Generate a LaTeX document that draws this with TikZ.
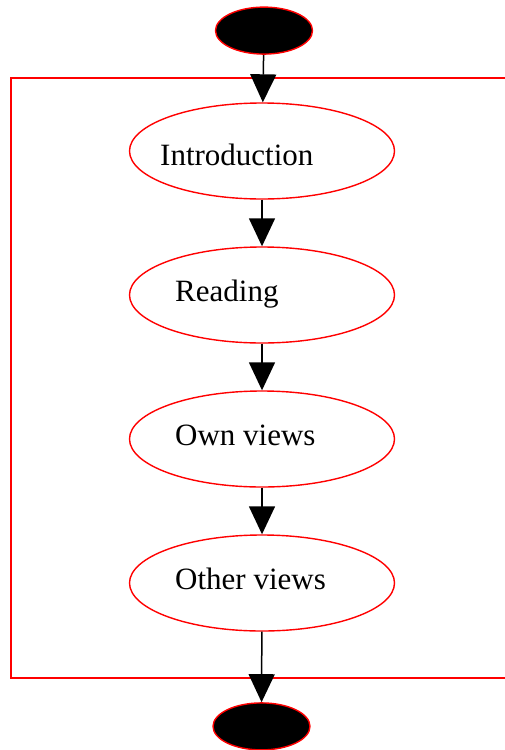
\documentclass[tikz,border=0pt]{standalone}
\usepackage{fontspec}
\setmainfont{Liberation Serif}
\usepackage{tikz}
\usetikzlibrary{shapes.geometric, arrows.meta, positioning}
\tikzstyle{terminal} = [ellipse, minimum width=97pt, minimum height=47pt, draw=red, fill=black, line width=1.4pt, inner sep=0pt]
\tikzstyle{topic} = [ellipse, minimum width=265pt, minimum height=96pt, draw=red, line width=1.4pt, inner sep=0pt]
\tikzstyle{caption} = [anchor=base west, inner sep=0pt, font=\fontsize{31}{37}\selectfont]
\tikzstyle{arrow} = [line width=1.5pt, -{Triangle[length=28pt, width=26pt]}]

\begin{document}
\begin{tikzpicture}[x=1pt, y=-1pt, node distance=46.6pt]
    \useasboundingbox (0,0) rectangle (505,750);
    \node (intro) [topic] at (262,151) {};
    \node (reading) [topic, below=of intro] {};
    \node (ownviews) [topic, below=of reading] {};
    \node (otherviews) [topic, below=of ownviews] {};
    \node (start) [terminal, above=47.5pt of intro, xshift=2pt] {};
    \node (stop) [terminal, below=70.5pt of otherviews, xshift=-0.5pt] {};

    \node (intro-t) [caption] at ([xshift=-102pt, yshift=-14pt]intro.center) {Introduction};
    \node (reading-t) [caption] at ([xshift=-87pt, yshift=-6.5pt]reading.center) {Reading};
    \node (ownviews-t) [caption] at ([xshift=-87pt, yshift=-6.5pt]ownviews.center) {Own views};
    \node (otherviews-t) [caption] at ([xshift=-87pt, yshift=-6.5pt]otherviews.center) {Other views};

    % cluster frame, runs off the right edge
    \draw [red, line width=1.4pt] (11,78) rectangle (530,678);

    \draw [arrow] (start) -- (intro);
    \draw [arrow] (intro) -- (reading);
    \draw [arrow] (reading) -- (ownviews);
    \draw [arrow] (ownviews) -- (otherviews);
    \draw [arrow] (otherviews) -- (stop);
\end{tikzpicture}
\end{document}
